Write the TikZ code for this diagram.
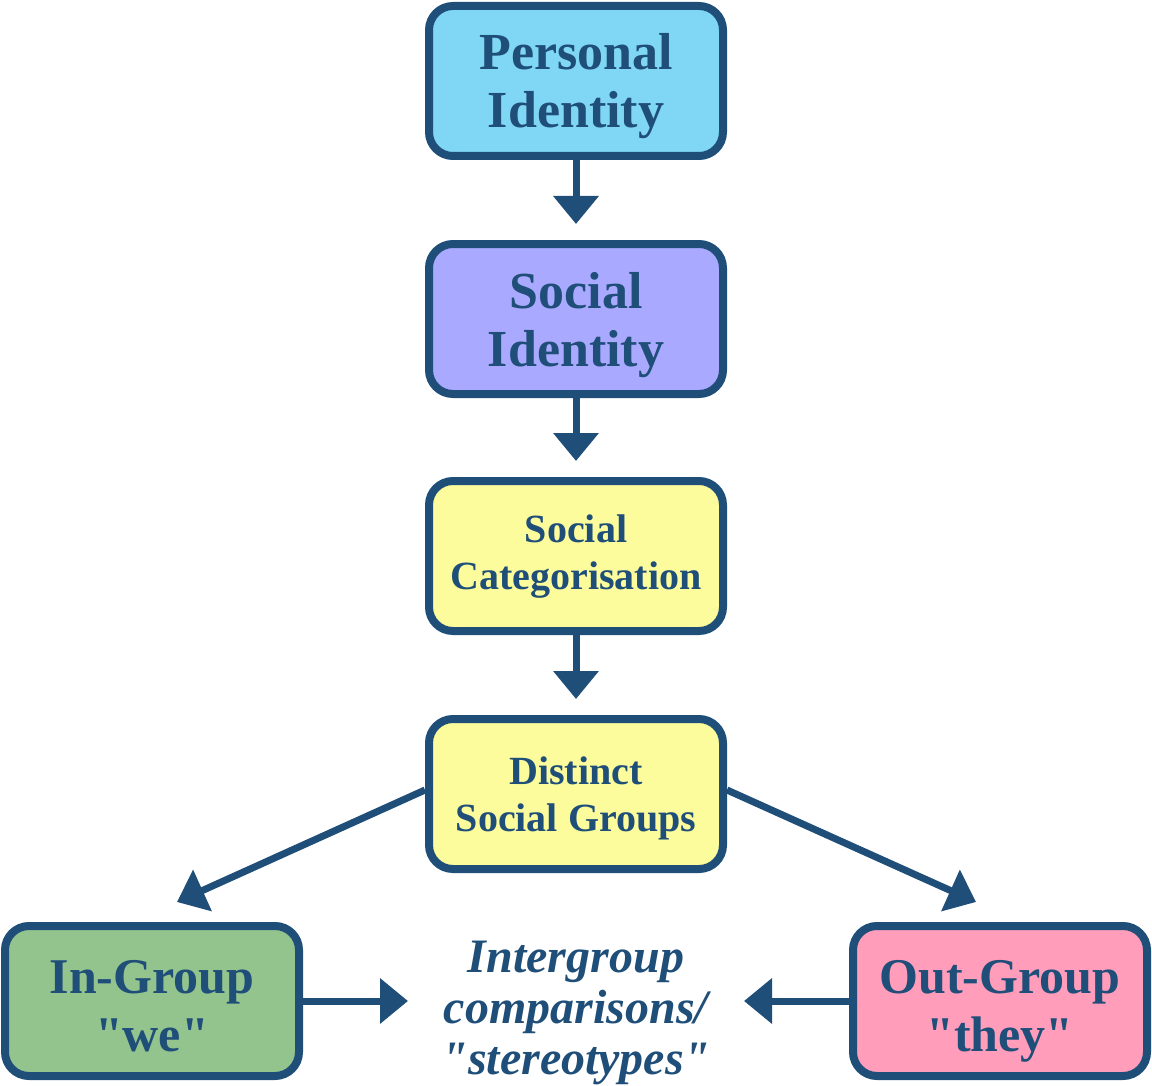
\documentclass[tikz,border=0pt]{standalone}
\usepackage{fontspec}
\setmainfont{Liberation Serif}
\usetikzlibrary{arrows.meta}
\definecolor{navy}{HTML}{1F4E79}
\definecolor{skyfill}{HTML}{7FD6F5}
\definecolor{lavfill}{HTML}{A9A9FF}
\definecolor{lemonfill}{HTML}{FCFC9C}
\definecolor{greenfill}{HTML}{93C48E}
\definecolor{pinkfill}{HTML}{FF9DBB}
\newcommand{\qq}[1]{\textquotedbl#1\textquotedbl}
\begin{document}
\begin{tikzpicture}[x = .5pt, y = -.5pt,
	box/.style = {draw = navy, line width = 4pt, rounded corners = 12pt, minimum width = 147pt, minimum height = 75pt, inner sep = 0pt, align = center, text = navy, text depth = 3pt},
	bigtext/.style = {font = \fontsize{26}{29}\selectfont\bfseries, text height = 50pt},
	smalltext/.style = {font = \fontsize{20}{23.5}\selectfont\bfseries, text height = 36pt},
	grouptext/.style = {font = \fontsize{25}{29}\selectfont\bfseries, text height = 53pt},
	arr/.style = {navy, line width = 3.5pt, -{Triangle[width = 22pt, length = 14pt]}}]
	\useasboundingbox (0,0) rectangle (1152,1086);
	% chain of boxes
	\node[box, bigtext, fill = skyfill] (pers) at (576,81) {Personal\\Identity};
	\node[box, bigtext, fill = lavfill] (soc) at (576,319) {Social\\Identity};
	\node[box, smalltext, fill = lemonfill] (cat) at (576,556) {Social\\Categorisation};
	\node[box, smalltext, fill = lemonfill, text height = 40pt] (dist) at (576,794) {Distinct\\Social Groups};
	\node[box, grouptext, fill = greenfill] (in) at (152,1001) {In-Group\\\qq{we}};
	\node[box, grouptext, fill = pinkfill] (out) at (1000,1001) {Out-Group\\\qq{they}};
	\node[text = navy, align = center, font = \fontsize{24}{25.5}\selectfont\bfseries\itshape] (cmp) at (576,1013) {Intergroup\\comparisons/\\\qq{stereotypes}};
	% free arrow ends
	\coordinate (inTip) at (177,902);
	\coordinate (outTip) at (976,902);
	\coordinate (cmpL) at (408,1001);
	\coordinate (cmpR) at (744,1001);
	\draw[arr, shorten > = 8pt] (pers.south)--(soc.north);
	\draw[arr, shorten > = 8pt] (soc.south)--(cat.north);
	\draw[arr, shorten > = 8pt] (cat.south)--(dist.north);
	\draw[arr] ([yshift = 2pt]dist.west)--(inTip);
	\draw[arr] ([yshift = 2pt]dist.east)--(outTip);
	\draw[arr] (in.east)--(cmpL);
	\draw[arr] (out.west)--(cmpR);
\end{tikzpicture}
\end{document}
